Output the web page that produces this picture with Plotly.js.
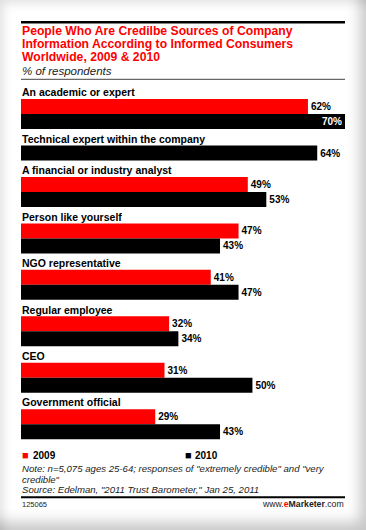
<!DOCTYPE html>
<html>
<head>
<meta charset="utf-8">
<script src="https://cdn.plot.ly/plotly-3.0.1.min.js"></script>
<style>
  html, body { margin: 0; padding: 0; background: #fff; }
  #frame {
    width: 366px; height: 530px; position: relative; overflow: hidden;
    background: #ffffff;
    box-shadow: inset -12px -14px 14px -6px rgba(0,0,0,0.22), inset 8px 8px 12px -6px rgba(0,0,0,0.14);
  }
  #chart { width: 366px; height: 530px; position: absolute; left: 0; top: 0; }
</style>
</head>
<body>
<div id="frame"><div id="chart"></div></div>
<script>
// ---------- data ----------
const categories = [
  "An academic or expert",
  "Technical expert within the company",
  "A financial or industry analyst",
  "Person like yourself",
  "NGO representative",
  "Regular employee",
  "CEO",
  "Government official"
];
const values2009 = [62, null, 49, 47, 41, 32, 31, 29];
const values2010 = [70, 64, 53, 43, 47, 34, 50, 43];
const seriesNames = ["2009", "2010"];
const seriesColors = ["#ff0000", "#000000"];
const titleLines = [
  "People Who Are Credilbe Sources of Company",
  "Information According to Informed Consumers",
  "Worldwide, 2009 & 2010"
];
const subtitle = "% of respondents";
const noteLines = [
  "Note: n=5,075 ages 25-64; responses of \"extremely credible\" and \"very",
  "credible\"",
  "Source: Edelman, \"2011 Trust Barometer,\" Jan 25, 2011"
];
const chartId = "125065";
const brandHtml = "www.<b><span style=\"color:#ff0000\">e</span>Marketer</b>.com";

// ---------- layout geometry ----------
const W = 366, H = 530;
const plotLeft = 21, plotRight = 345, plotTop = 84, plotBottom = 440;
const xMax = 70;
const pxPerUnit = (plotRight - plotLeft) / xMax;
const FONT = "Liberation Sans, Arial, sans-serif";
const P = py => (plotBottom - py) / (plotBottom - plotTop); // page px -> paper y

const seriesValues = [values2009, values2010];
const labelY = [];
const barY = seriesValues.map(() => []);
let L = 92.3;
categories.forEach((c, i) => {
  labelY.push(L);
  let k = 0;
  seriesValues.forEach((vals, s) => {
    if (vals[i] != null) { barY[s][i] = L + 14.25 + 15 * k; k++; }
    else barY[s][i] = null;
  });
  L += 16.45 + 15 * k;
});

const traces = seriesValues.map((vals, s) => ({
  type: "bar",
  orientation: "h",
  name: seriesNames[s],
  x: vals,
  y: barY[s],
  width: 15,
  marker: { color: seriesColors[s], line: { width: 0 } },
  text: vals.map(v => v == null ? "" : v + "%"),
  textposition: vals.map(v => (v != null && (xMax - v) * pxPerUnit < 24) ? "inside" : "outside"),
  insidetextanchor: "end",
  textfont: { family: FONT, size: 10, color: "#000", weight: "bold" },
  outsidetextfont: { family: FONT, size: 10, color: "#000", weight: "bold" },
  insidetextfont: { family: FONT, size: 10, color: "#fff", weight: "bold" },
  constraintext: "none",
  cliponaxis: false,
  hoverinfo: "skip",
  showlegend: false
}));

const annotations = [];
// title lines
const titleCenters = [30.7, 43.9, 57.1];
titleLines.forEach((t, i) => annotations.push({
  text: t, xref: "paper", yref: "paper", x: 0, y: P(titleCenters[i]),
  xanchor: "left", yanchor: "middle", showarrow: false, borderpad: 0,
  font: { family: FONT, size: 12.2, color: "#ff0000", weight: "bold" }
}));
annotations.push({
  text: subtitle, xref: "paper", yref: "paper", x: 0, y: P(70.8),
  xanchor: "left", yanchor: "middle", showarrow: false, borderpad: 0,
  font: { family: FONT, size: 11.5, color: "#222", style: "italic" }
});
// category labels
categories.forEach((c, i) => annotations.push({
  text: c, xref: "paper", yref: "y", x: 0, y: labelY[i],
  xanchor: "left", yanchor: "middle", showarrow: false, borderpad: 0,
  font: { family: FONT, size: 10.5, color: "#000", weight: "bold" }
}));
// legend
seriesNames.forEach((n, s) => {
  const lx = s * 0.5025;
  annotations.push({
    text: "\u25A0", xref: "paper", yref: "paper", x: lx, y: P(455.2),
    xanchor: "left", yanchor: "middle", showarrow: false, borderpad: 0,
    font: { family: FONT, size: 11, color: seriesColors[s] }
  });
  annotations.push({
    text: n, xref: "paper", yref: "paper", x: lx + 10.5 / (plotRight - plotLeft), y: P(455.2),
    xanchor: "left", yanchor: "middle", showarrow: false, borderpad: 0,
    font: { family: FONT, size: 10, color: "#000", weight: "bold" }
  });
});
// notes
const noteCenters = [468.8, 479.1, 489.5];
noteLines.forEach((t, i) => annotations.push({
  text: t, xref: "paper", yref: "paper", x: 0, y: P(noteCenters[i]),
  xanchor: "left", yanchor: "middle", showarrow: false, borderpad: 0,
  font: { family: FONT, size: 9.6, color: "#222", style: "italic" }
}));
annotations.push({
  text: chartId, xref: "paper", yref: "paper", x: 0, y: P(504.5),
  xanchor: "left", yanchor: "middle", showarrow: false, borderpad: 0,
  font: { family: FONT, size: 7.5, color: "#222" }
});
annotations.push({
  text: brandHtml, xref: "paper", yref: "paper", x: 1, y: P(504.5),
  xanchor: "right", yanchor: "middle", showarrow: false, borderpad: 0,
  font: { family: FONT, size: 8.7, color: "#222" }
});

const shapes = [
  { type: "line", xref: "paper", yref: "paper", x0: 0, x1: 1, y0: P(22.2), y1: P(22.2), line: { color: "#000", width: 2.5 } },
  { type: "line", xref: "paper", yref: "paper", x0: 0, x1: 1, y0: P(79.3), y1: P(79.3), line: { color: "#444", width: 1 } },
  { type: "line", xref: "paper", yref: "paper", x0: 0, x1: 1, y0: P(497.3), y1: P(497.3), line: { color: "#000", width: 2 } }
];

const layout = {
  width: W, height: H,
  margin: { l: plotLeft, r: W - plotRight, t: plotTop, b: H - plotBottom, pad: 0 },
  paper_bgcolor: "rgba(0,0,0,0)",
  plot_bgcolor: "rgba(0,0,0,0)",
  barmode: "overlay",
  showlegend: false,
  xaxis: { range: [0, xMax], visible: false, fixedrange: true },
  yaxis: { range: [plotBottom, plotTop], visible: false, fixedrange: true },
  annotations: annotations,
  shapes: shapes,
  font: { family: FONT }
};

Plotly.newPlot("chart", traces, layout, { displayModeBar: false, staticPlot: true });
</script>
</body>
</html>
